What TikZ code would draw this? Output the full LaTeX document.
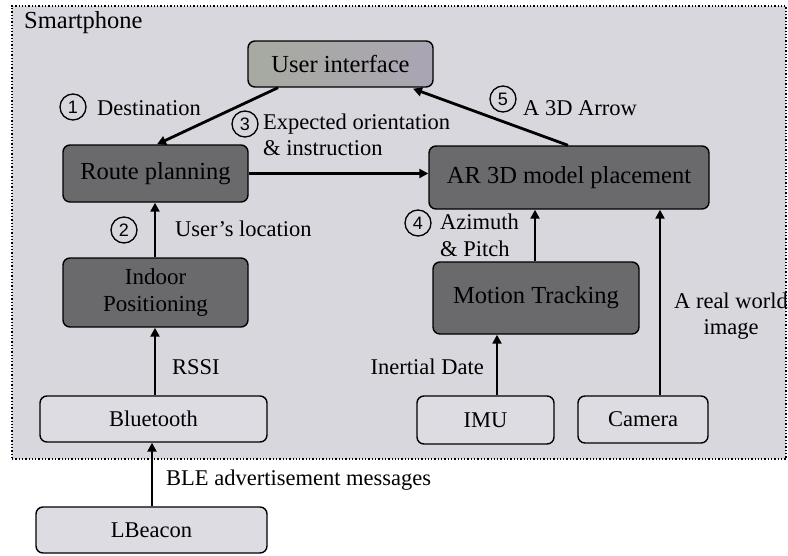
\documentclass[tikz,border=0pt]{standalone}
\usepackage{fontspec}
\setmainfont{Liberation Serif}
\newfontfamily\numfont{Liberation Sans}
\usetikzlibrary{arrows.meta}
\definecolor{bgphone}{HTML}{D8D7DD}
\definecolor{litefill}{HTML}{DDDCE3}
\definecolor{darkfill}{HTML}{6A6A6C}
\definecolor{uiL}{HTML}{A7AAA0}
\definecolor{uiM}{HTML}{B2B0B6}
\definecolor{uiR}{HTML}{AAA5B3}
\begin{document}
\begin{tikzpicture}[x=1pt,y=-1pt,
  box/.style={draw=black, line width=1.4pt, rounded corners=7pt, inner sep=0pt, align=center},
  darkbox/.style={box, fill=darkfill, font=\fontsize{24.5}{27}\selectfont},
  litebox/.style={box, fill=litefill, font=\fontsize{22.5}{26}\selectfont},
  arr/.style={line width=2.8pt, -{Triangle[length=9pt,width=9pt]}},
  lbl/.style={anchor=west, inner sep=0pt, font=\fontsize{22.5}{26}\selectfont, align=left},
  num/.style={circle, draw, line width=1.3pt, minimum size=26pt, inner sep=0pt, font=\numfont\fontsize{18}{18}\selectfont}]
\useasboundingbox (0,0) rectangle (788,555);
\fill[white] (0,0) rectangle (788,555);
% smartphone container
\node[draw, dotted, line width=1.3pt, fill=bgphone, minimum width=774pt, minimum height=453pt, inner sep=0pt] (phone) at (399,232.5) {};
\node[anchor=west, inner sep=0pt, font=\fontsize{24.5}{27}\selectfont] (phonelbl) at (24,23) {Smartphone};
% boxes
\node[box, left color=uiL, middle color=uiM, right color=uiR, font=\fontsize{24.5}{27}\selectfont, minimum width=185pt, minimum height=46pt] (ui) at (340.5,64) {User interface};
\node[darkbox, minimum width=185pt, minimum height=57pt] (route) at (155.5,173.5) {Route planning};
\node[darkbox, minimum width=280pt, minimum height=63pt] (ar) at (569,177.5) {AR 3D model placement};
\node[darkbox, minimum width=185pt, minimum height=69pt, font=\fontsize{23}{27}\selectfont] (indoor) at (155.5,292.5) {Indoor\\Positioning};
\node[darkbox, minimum width=206pt, minimum height=72pt] (motion) at (536,298) {Motion Tracking};
\node[litebox, minimum width=227pt, minimum height=46pt] (bt) at (153.5,419) {Bluetooth};
\node[litebox, minimum width=137pt, minimum height=48pt] (imu) at (485.5,420) {IMU};
\node[litebox, minimum width=130pt, minimum height=47pt] (cam) at (643,419.5) {Camera};
\node[litebox, minimum width=231pt, minimum height=46pt] (lbeacon) at (151.5,530) {LBeacon};
% helper x positions
\coordinate (xa) at (278,0);
\coordinate (xb) at (157,0);
\coordinate (xc) at (568,0);
\coordinate (xd) at (413,0);
\coordinate (xe) at (155,0);
\coordinate (xf) at (152,0);
\coordinate (xg) at (535,0);
\coordinate (xh) at (497,0);
\coordinate (xi) at (660,0);
% connectors
\draw[arr] (ui.south -| xa) -- (route.north -| xb);
\draw[arr] (route.east) -- (route.east -| ar.west);
\draw[arr] (ar.north -| xc) -- ([yshift=-1pt]ui.south -| xd);
\draw[arr] (indoor.north -| xe) -- (route.south -| xe);
\draw[arr] (bt.north -| xe) -- (indoor.south -| xe);
\draw[arr] (lbeacon.north -| xf) -- (bt.south -| xf);
\draw[arr] (motion.north -| xg) -- (ar.south -| xg);
\draw[arr] (imu.north -| xh) -- (motion.south -| xh);
\draw[arr] (cam.north -| xi) -- (ar.south -| xi);
% labels
\node[num] (n1) at (73,107) {1};
\node[lbl] (l1) at (97,108) {Destination};
\node[num] (n3) at (245,124) {3};
\node[lbl] (l3) at (263,124) {Expected orientation};
\node[lbl] (l3b) at (263,148) {\& instruction};
\node[num] (n5) at (503,99) {5};
\node[lbl] (l5) at (523,108) {A 3D Arrow};
\node[num] (n2) at (124,230) {2};
\node[lbl] (l2) at (175,229) {User’s location};
\node[num] (n4) at (418,223) {4};
\node[lbl] (l4) at (440,222) {Azimuth};
\node[lbl] (l4b) at (440,249) {\& Pitch};
\node[lbl] (rssi) at (172,367) {RSSI};
\node[lbl, anchor=east] (inert) at (484,367) {Inertial Date};
\node[lbl, align=center, anchor=center] (real) at (731,316) {A real world\\image};
\node[lbl] (ble) at (166,480) {BLE advertisement messages};
\end{tikzpicture}
\end{document}
